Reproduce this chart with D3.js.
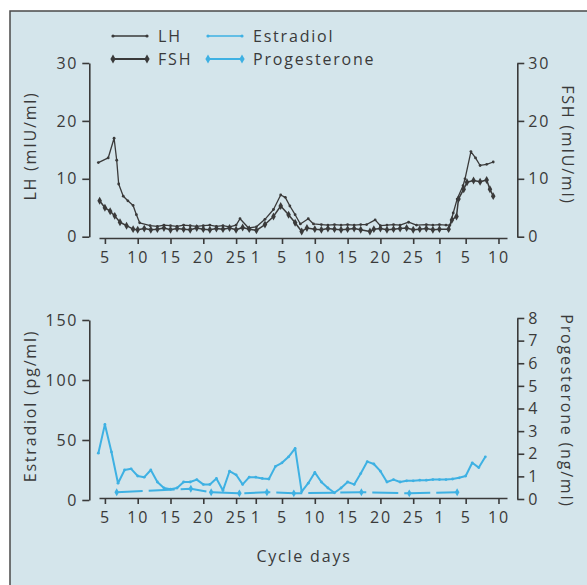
<!DOCTYPE html>
<html>
<head>
<meta charset="utf-8">
<script src="https://cdn.jsdelivr.net/npm/d3@7"></script>
<style>
  body { margin: 0; background: #fff; }
  svg { display: block; }
  text { font-family: "Open Sans", sans-serif; font-size: 16px; letter-spacing: 1.8px; fill: #3a3a3a; }
</style>
</head>
<body>
<div id="chart"></div>
<script>
// dias do ciclo (indice continuo) e rotulos
const tickDays = [4, 9, 14, 19, 24, 27, 31, 36, 41, 46, 51, 55, 59, 64];
const tickLabels = ["5", "10", "15", "20", "25", "1", "5", "10", "15", "20", "25", "1", "5", "10"];

const seriesNames = ["LH", "FSH", "Estradiol", "Progesterone"];

// [dia, valor]
const lh = [[3,12.8],[4.5,13.6],[5.4,17],[5.8,13.2],[6.1,9.1],[6.8,7],[7.5,6.2],[8.3,5.4],[8.8,3.8],[9.3,2.4],
  [10.9,1.9],[12,1.8],[13,2.0],[14,1.9],[15,1.8],[16,2.0],[17,1.9],[18,1.8],[19,1.9],[20,2.0],
  [21,1.8],[22,1.9],[23,1.7],[24,2.0],[24.6,3.1],[25.9,1.5],[27.1,1.7],[28.4,3.0],[29.7,4.7],[30.8,7.2],
  [31.5,6.8],[32.2,5.3],[33,3.8],[33.8,2.2],[35,3.1],[35.8,2.2],[37,2.1],[38,2.0],[39,2.1],[40,2.0],
  [41,2.1],[42,2.0],[43,2.1],[43.9,2.1],[45.2,2.9],[46,1.9],[47,2.0],[48,2.1],[49,2.0],[50.3,2.5],
  [51.5,2.0],[53,2.1],[54,2.0],[55,2.1],[56,2.0],[56.6,2.0],[57.1,4.1],[57.7,6.5],[58.6,8.8],[58.9,10],
  [59.8,14.7],[60.5,13.6],[61.2,12.3],[62.2,12.5],[63.2,12.9]];

const fsh = [[3.2,6.2],[4,5.0],[4.8,4.4],[5.5,3.6],[6.3,2.5],[7.3,1.9],[8.3,1.3],[9,1.2],[10,1.4],[11,1.2],
  [12,1.3],[13,1.5],[14,1.2],[15,1.4],[16,1.3],[17,1.2],[18,1.5],[19,1.3],[20,1.2],[21,1.4],
  [22,1.3],[23,1.5],[24,1.2],[25,1.6],[26,1.3],[27.1,1.1],[28.4,2.1],[29.7,3.5],[30.8,5.3],[32,3.8],
  [33,2.4],[34,0.9],[34.8,1.5],[36,1.3],[37,1.2],[38,1.4],[39,1.3],[40,1.2],[41,1.3],[42,1.4],
  [43,1.2],[44.4,0.9],[45,1.3],[46,1.4],[47,1.2],[48,1.3],[49,1.4],[50,1.5],[51,1.2],[52,1.3],
  [53,1.4],[54,1.2],[55,1.3],[56.4,1.3],[56.9,2.9],[57.6,3.5],[57.9,6.5],[58.7,8.2],[59.2,9.4],[60.2,9.7],
  [61.2,9.5],[62.2,9.8],[62.7,8.2],[63.2,7]];

const estradiol = [[3,39],[4,63],[5,40],[6,14],[7,25],[8,26],[9,20],[10,19],[11,25],[12,15],
  [13,10],[14,9],[15,10],[16,15],[17,15],[18,17],[19,13],[20,13],[21,18],[22,8],
  [23,24],[24,21],[25,13],[26,19],[27,19],[28,18],[29,17.5],[30,28],[31,31],[32,36],
  [33,43],[34,7],[35,14],[36,23],[37,15],[38,10],[39,6],[40,10],[41,15],[42,13],
  [43,22],[44,32],[45,30],[46,24],[47,15],[48,17],[49,15],[50,16],[51,16],[52,16.5],
  [53,16.5],[54,17],[55,17],[56,17],[57,17.5],[58,18.5],[59,20],[60,31],[61,27],[62,36]];

const progesterone = [[5.8,0.3],[17.1,0.45],[20.2,0.3],[24.5,0.25],[28.7,0.3],[32.8,0.25],[43.1,0.3],[50.4,0.25],[57.7,0.3]];

const ticksHormonio = [0, 10, 20, 30];
const ticksEstradiol = [0, 50, 100, 150];
const ticksProg = [0, 1, 2, 3, 4, 5, 6, 7, 8];

const width = 587, height = 585;
const escuro = "#3a3a3a";
const azul = "#3eb1e3";

const svg = d3.select("#chart").append("svg")
  .attr("width", width)
  .attr("height", height);

// moldura
svg.append("rect")
  .attr("x", 10).attr("y", 11)
  .attr("width", 620).attr("height", 620)
  .attr("fill", "#d4e5eb")
  .attr("stroke", "#4a4a4a")
  .attr("stroke-width", 1.5);

// escalas
const x = d3.scaleLinear().domain([3.1, 65.3]).range([99, 507]);
const yLH = d3.scaleLinear().domain([0, 30]).range([236.7, 63]);
const yFSH = d3.scaleLinear().domain([0, 30]).range([236.7, 63]);
const yE = d3.scaleLinear().domain([0, 150]).range([500, 320]);
const yP = d3.scaleLinear().domain([0, 8]).range([499, 318]);

function estilo(g) {
  g.select(".domain").attr("stroke", escuro).attr("stroke-width", 1.6);
  g.selectAll(".tick line").attr("stroke", escuro).attr("stroke-width", 1.6);
  g.selectAll(".tick text").attr("fill", escuro).attr("font-size", 16)
    .attr("font-family", '"Open Sans", sans-serif');
}

function eixoX(yPos) {
  svg.append("g")
    .attr("transform", `translate(0, ${yPos})`)
    .call(d3.axisBottom(x).tickValues(tickDays).tickFormat((d, i) => tickLabels[i])
      .tickSize(6).tickSizeOuter(0).tickPadding(8))
    .call(estilo);
}

// eixos do grafico de cima
svg.append("g")
  .attr("transform", "translate(89.3, 0)")
  .call(d3.axisLeft(yLH).tickValues(ticksHormonio).tickSize(7).tickSizeOuter(0).tickPadding(4))
  .call(estilo);
svg.append("g")
  .attr("transform", "translate(517.3, 0)")
  .call(d3.axisRight(yFSH).tickValues(ticksHormonio).tickSize(7).tickSizeOuter(0).tickPadding(4))
  .call(estilo);
eixoX(238);

// eixos do grafico de baixo
svg.append("g")
  .attr("transform", "translate(89.3, 0)")
  .call(d3.axisLeft(yE).tickValues(ticksEstradiol).tickSize(7).tickSizeOuter(0).tickPadding(4))
  .call(estilo);
svg.append("g")
  .attr("transform", "translate(517.3, 0)")
  .call(d3.axisRight(yP).tickValues(ticksProg).tickSize(7).tickSizeOuter(0).tickPadding(4))
  .call(estilo);
eixoX(498);

// titulos dos eixos
function titulo(txt, px, py, rot) {
  svg.append("text")
    .attr("transform", `translate(${px}, ${py}) rotate(${rot})`)
    .attr("text-anchor", "middle")
    .attr("dominant-baseline", "central")
    .text(txt);
}
titulo("LH (mIU/ml)", 30, 146, -90);
titulo("FSH (mIU/ml)", 568, 145, 90);
titulo("Estradiol (pg/ml)", 30, 406, -90);
titulo("Progesterone (ng/ml)", 567, 411, 90);
titulo("Cycle days", 304, 556, 0);

// linhas
const diamante = d3.symbol().type(d3.symbolDiamond);

function serie(dados, yScale, cor, largura, marcador, dash) {
  const linha = d3.line().x(d => x(d[0])).y(d => yScale(d[1]));
  svg.append("path")
    .datum(dados)
    .attr("d", linha)
    .attr("fill", "none")
    .attr("stroke", cor)
    .attr("stroke-width", largura)
    .attr("stroke-dasharray", dash || null)
    .attr("stroke-linejoin", "round");
  const g = svg.append("g");
  if (marcador === "ponto") {
    g.selectAll("circle").data(dados).join("circle")
      .attr("cx", d => x(d[0])).attr("cy", d => yScale(d[1]))
      .attr("r", 1.4).attr("fill", cor);
  } else if (marcador === "diamante") {
    g.selectAll("path").data(dados).join("path")
      .attr("transform", d => `translate(${x(d[0])}, ${yScale(d[1])})`)
      .attr("d", diamante.size(18)())
      .attr("fill", cor);
  }
}

serie(lh, yLH, escuro, 1.3, "ponto");
serie(fsh, yFSH, escuro, 1.5, "diamante");
serie(estradiol, yE, azul, 2, "ponto");
serie(progesterone, yP, azul, 2, "diamante", "26,6");

// legenda
const legenda = [
  { nome: seriesNames[0], cor: escuro, m: "ponto", x0: 113, y0: 36 },
  { nome: seriesNames[1], cor: escuro, m: "diamante", x0: 113, y0: 59 },
  { nome: seriesNames[2], cor: azul, m: "ponto", x0: 208, y0: 36 },
  { nome: seriesNames[3], cor: azul, m: "diamante", x0: 208, y0: 59 }
];
legenda.forEach(l => {
  svg.append("line")
    .attr("x1", l.x0).attr("x2", l.x0 + 34)
    .attr("y1", l.y0).attr("y2", l.y0)
    .attr("stroke", l.cor).attr("stroke-width", l.m === "ponto" ? 1.3 : 1.8);
  [l.x0, l.x0 + 34].forEach(px => {
    if (l.m === "ponto") {
      svg.append("circle").attr("cx", px).attr("cy", l.y0).attr("r", 1.6).attr("fill", l.cor);
    } else {
      svg.append("path").attr("transform", `translate(${px}, ${l.y0})`)
        .attr("d", diamante.size(24)()).attr("fill", l.cor);
    }
  });
  svg.append("text")
    .attr("x", l.x0 + 45).attr("y", l.y0)
    .attr("dominant-baseline", "central")
    .text(l.nome);
});
</script>
</body>
</html>
